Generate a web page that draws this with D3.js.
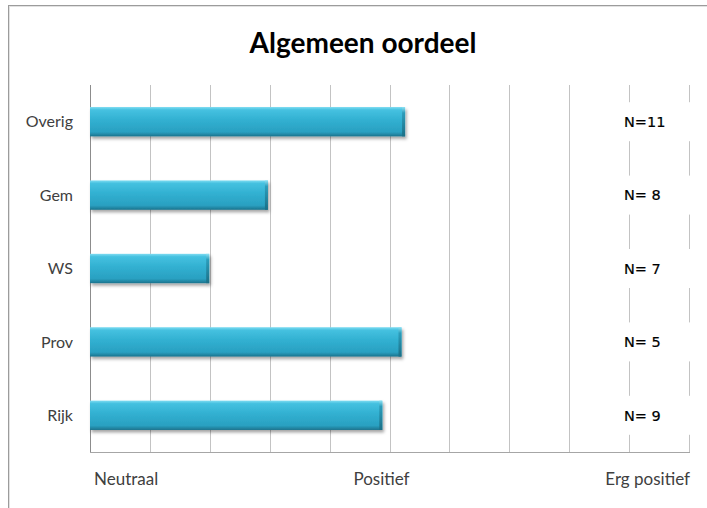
<!DOCTYPE html>
<html>
<head>
<meta charset="utf-8">
<script src="https://cdn.jsdelivr.net/npm/d3@7"></script>
<style>
  body { margin: 0; background: #fff; }
  svg { display: block; }
</style>
</head>
<body>
<div id="chart"></div>
<script>
// data
const categories = ["Overig", "Gem", "WS", "Prov", "Rijk"];
const scores = [5.26, 2.97, 1.99, 5.20, 4.88];
const nLabels = ["N=11", "N= 8", "N= 7", "N= 5", "N= 9"];
const tickValues = [0, 5, 10];
const tickLabels = ["Neutraal", "Positief", "Erg positief"];

const width = 707, height = 508;
const plotLeft = 90, plotRight = 689, plotTop = 85, plotBottom = 452;

const svg = d3.select("#chart").append("svg")
    .attr("width", width)
    .attr("height", height);

const defs = svg.append("defs");

// vertical shading of the bars
const grad = defs.append("linearGradient")
    .attr("id", "barFill")
    .attr("x1", 0).attr("y1", 0).attr("x2", 0).attr("y2", 1);
grad.append("stop").attr("offset", "0%").attr("stop-color", "#7fdcf2");
grad.append("stop").attr("offset", "10%").attr("stop-color", "#45c1e0");
grad.append("stop").attr("offset", "45%").attr("stop-color", "#31b0d1");
grad.append("stop").attr("offset", "85%").attr("stop-color", "#2aa0c1");
grad.append("stop").attr("offset", "100%").attr("stop-color", "#1b738d");

const gradEnd = defs.append("linearGradient")
    .attr("id", "barEnd")
    .attr("x1", 0).attr("y1", 0).attr("x2", 0).attr("y2", 1);
gradEnd.append("stop").attr("offset", "0%").attr("stop-color", "#8fe2f4");
gradEnd.append("stop").attr("offset", "20%").attr("stop-color", "#2c9dbb");
gradEnd.append("stop").attr("offset", "100%").attr("stop-color", "#1b6f86");

const shadow = defs.append("filter").attr("id", "shadow")
    .attr("x", "-5%").attr("y", "-20%").attr("width", "115%").attr("height", "160%");
shadow.append("feDropShadow")
    .attr("dx", 1.5).attr("dy", 2.5).attr("stdDeviation", 1.5)
    .attr("flood-color", "#000").attr("flood-opacity", 0.35);

svg.append("rect")
    .attr("width", width).attr("height", height)
    .attr("fill", "#fff");

// outer frame, right and bottom edges fall outside the picture
svg.append("rect")
    .attr("x", 8.5).attr("y", 5.5)
    .attr("width", 760).attr("height", 560)
    .attr("fill", "none")
    .attr("stroke", "#9c9c9c");
svg.append("rect")
    .attr("x", 9.5).attr("y", 6.5)
    .attr("width", 760).attr("height", 560)
    .attr("fill", "none")
    .attr("stroke", "#e2e2e2");

const x = d3.scaleLinear().domain([0, 10]).range([plotLeft, plotRight]);
const y = d3.scaleBand().domain(categories).range([plotTop, plotBottom])
    .paddingInner(0.6).paddingOuter(0.3);

// gridlines
svg.append("g")
    .selectAll("line")
    .data(d3.range(1, 11))
    .join("line")
    .attr("x1", d => Math.round(x(d)) + 0.5)
    .attr("x2", d => Math.round(x(d)) + 0.5)
    .attr("y1", plotTop)
    .attr("y2", plotBottom)
    .attr("stroke", "#c3c3c3");

// axes lines
svg.append("line")
    .attr("x1", plotLeft + 0.5).attr("x2", plotLeft + 0.5)
    .attr("y1", plotTop).attr("y2", plotBottom)
    .attr("stroke", "#8c8c8c");
svg.append("line")
    .attr("x1", plotLeft).attr("x2", Math.round(x(10)) + 1)
    .attr("y1", plotBottom + 0.5).attr("y2", plotBottom + 0.5)
    .attr("stroke", "#a6a6a6");

// white boxes behind the N labels break the last gridlines
svg.append("g")
    .selectAll("rect")
    .data(categories)
    .join("rect")
    .attr("x", 592)
    .attr("y", d => y(d) + y.bandwidth() / 2 - 19.5)
    .attr("width", 108)
    .attr("height", 39)
    .attr("fill", "#fff");

// bars
const bars = svg.append("g")
    .selectAll("g")
    .data(categories.map((c, i) => ({ cat: c, v: scores[i] })))
    .join("g")
    .attr("filter", "url(#shadow)");

bars.append("rect")
    .attr("x", x(0))
    .attr("y", d => y(d.cat))
    .attr("width", d => x(d.v) - x(0))
    .attr("height", y.bandwidth())
    .attr("fill", "url(#barFill)");

bars.append("rect")
    .attr("x", d => x(d.v) - 3)
    .attr("y", d => y(d.cat))
    .attr("width", 3)
    .attr("height", y.bandwidth())
    .attr("fill", "url(#barEnd)");

// category labels
svg.append("g")
    .selectAll("text")
    .data(categories)
    .join("text")
    .attr("x", 73)
    .attr("y", d => y(d) + y.bandwidth() / 2)
    .attr("dy", "0.35em")
    .attr("text-anchor", "end")
    .attr("font-family", "Lato, 'Open Sans', sans-serif")
    .attr("font-size", 16)
    .attr("fill", "#404040")
    .text(d => d);

// N labels
svg.append("g")
    .selectAll("text")
    .data(categories)
    .join("text")
    .attr("x", 624)
    .attr("y", d => y(d) + y.bandwidth() / 2)
    .attr("dy", "0.36em")
    .attr("font-family", "'DejaVu Sans', Verdana, sans-serif")
    .attr("font-size", 14.5)
    .attr("fill", "#000")
    .attr("stroke", "#000")
    .attr("stroke-width", 0.2)
    .text((d, i) => nLabels[i]);

// bottom scale labels
const anchors = ["start", "middle", "end"];
const offsets = [4, -8, 1];
svg.append("g")
    .selectAll("text")
    .data(tickValues)
    .join("text")
    .attr("x", (d, i) => x(d) + offsets[i])
    .attr("y", 485)
    .attr("text-anchor", (d, i) => anchors[i])
    .attr("font-family", "Lato, 'Open Sans', sans-serif")
    .attr("font-size", 17)
    .attr("fill", "#404040")
    .text((d, i) => tickLabels[i]);

// title
svg.append("text")
    .attr("x", 363)
    .attr("y", 53)
    .attr("text-anchor", "middle")
    .attr("font-family", "Lato, 'Open Sans', sans-serif")
    .attr("font-weight", "bold")
    .attr("font-size", 28)
    .attr("fill", "#000")
    .text("Algemeen oordeel");
</script>
</body>
</html>
